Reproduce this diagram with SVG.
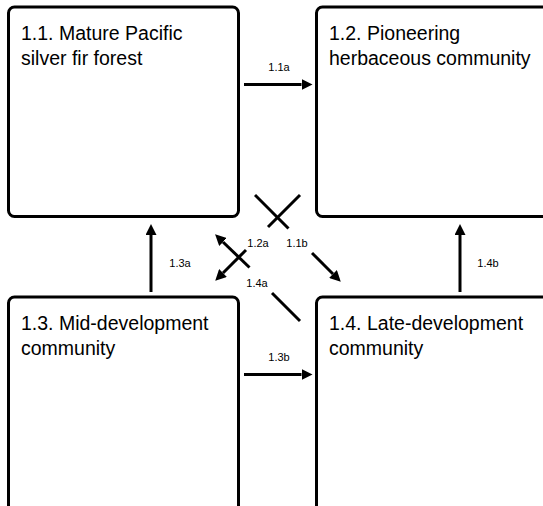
<svg xmlns="http://www.w3.org/2000/svg" width="543" height="506" viewBox="0 0 543 506">
<style>
.box{fill:#fff;stroke:#000;stroke-width:3}
.t{font-family:"Liberation Sans",Arial,sans-serif;font-size:19.5px;fill:#000}
.l{font-family:"Liberation Sans",Arial,sans-serif;font-size:11px;fill:#000;text-anchor:middle}
.c{stroke:#000;stroke-width:3;fill:none}
</style>
<defs>
<marker id="ah" viewBox="0 0 11 11" refX="0" refY="5.5" markerWidth="11" markerHeight="11" markerUnits="userSpaceOnUse" orient="auto">
<path d="M0,0 L11,5.5 L0,11 Z" fill="#000"/>
</marker>
</defs>
<rect width="543" height="506" fill="#fff"/>
<g id="node-1-1">
<rect class="box" x="8.5" y="7" width="230" height="209.5" rx="6"/>
<text class="t" x="21" y="39.5">1.1. Mature Pacific</text>
<text class="t" x="21" y="64.5">silver fir forest</text>
</g>
<g id="node-1-2">
<rect class="box" x="316.5" y="7" width="250" height="209.5" rx="6"/>
<text class="t" x="329" y="39.5">1.2. Pioneering</text>
<text class="t" x="329" y="64.5">herbaceous community</text>
</g>
<g id="node-1-3">
<rect class="box" x="8.5" y="297" width="230" height="240" rx="6"/>
<text class="t" x="21" y="329.5">1.3. Mid-development</text>
<text class="t" x="21" y="354.5">community</text>
</g>
<g id="node-1-4">
<rect class="box" x="316.5" y="297" width="250" height="240" rx="6"/>
<text class="t" x="329" y="329.5">1.4. Late-development</text>
<text class="t" x="329" y="354.5">community</text>
</g>
<g id="connectors">
<line class="c" x1="244" y1="84.5" x2="301.5" y2="84.5" marker-end="url(#ah)"/>
<text class="l" x="279" y="70.5">1.1a</text>
<line class="c" x1="244" y1="374.5" x2="301.5" y2="374.5" marker-end="url(#ah)"/>
<text class="l" x="279" y="360.5">1.3b</text>
<line class="c" x1="151" y1="292" x2="151" y2="235" marker-end="url(#ah)"/>
<text class="l" x="180" y="267">1.3a</text>
<line class="c" x1="460" y1="292" x2="460" y2="235" marker-end="url(#ah)"/>
<text class="l" x="488" y="267">1.4b</text>
<line class="c" x1="255" y1="195" x2="288.5" y2="228.5"/>
<line class="c" x1="312" y1="253" x2="333" y2="274" marker-end="url(#ah)"/>
<text class="l" x="297" y="247">1.1b</text>
<line class="c" x1="300" y1="195" x2="268" y2="227"/>
<line class="c" x1="246" y1="250" x2="223" y2="273" marker-end="url(#ah)"/>
<text class="l" x="258" y="247">1.2a</text>
<line class="c" x1="300" y1="321" x2="272" y2="293"/>
<line class="c" x1="249.5" y1="267.5" x2="223" y2="242" marker-end="url(#ah)"/>
<text class="l" x="257" y="287">1.4a</text>
</g>
</svg>
